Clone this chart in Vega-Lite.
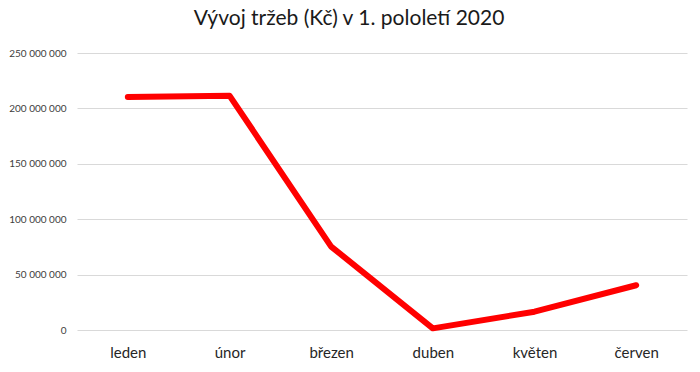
{
  "$schema": "https://vega.github.io/schema/vega-lite/v6.json",
  "width": 610,
  "height": 277,
  "autosize": {"type": "none"},
  "padding": {"left": 77, "top": 53, "right": 13, "bottom": 42},
  "background": "white",
  "title": {
    "text": "Vývoj tržeb (Kč) v 1. pololetí 2020",
    "font": "Lato",
    "fontSize": 21,
    "fontWeight": "normal",
    "color": "#1a1a1a",
    "anchor": "middle",
    "dx": -33,
    "offset": 19
  },
  "data": {
    "values": [
      {"mesic": "leden", "trzby": 210400000},
      {"mesic": "únor", "trzby": 211500000},
      {"mesic": "březen", "trzby": 75300000},
      {"mesic": "duben", "trzby": 1500000},
      {"mesic": "květen", "trzby": 16500000},
      {"mesic": "červen", "trzby": 40400000}
    ]
  },
  "mark": {"type": "line", "color": "#ff0000", "strokeWidth": 6, "strokeCap": "round", "strokeJoin": "round"},
  "encoding": {
    "x": {
      "field": "mesic",
      "type": "nominal",
      "sort": null,
      "scale": {"type": "point", "padding": 0.5},
      "axis": {
        "title": null,
        "domain": false,
        "ticks": false,
        "grid": false,
        "labelAngle": 0,
        "labelFont": "Lato",
        "labelFontSize": 15,
        "labelColor": "#262626",
        "labelPadding": 15
      }
    },
    "y": {
      "field": "trzby",
      "type": "quantitative",
      "scale": {"domain": [0, 250000000], "nice": false},
      "axis": {
        "title": null,
        "values": [0, 50000000, 100000000, 150000000, 200000000, 250000000],
        "labelExpr": "replace(format(datum.value, ','), /,/g, ' ')",
        "domain": false,
        "ticks": false,
        "grid": true,
        "gridColor": "#d9d9d9",
        "gridWidth": 1,
        "labelFont": "Lato",
        "labelFontSize": 10,
        "labelColor": "#404040",
        "labelPadding": 11
      }
    }
  },
  "config": {"view": {"stroke": null}}
}
